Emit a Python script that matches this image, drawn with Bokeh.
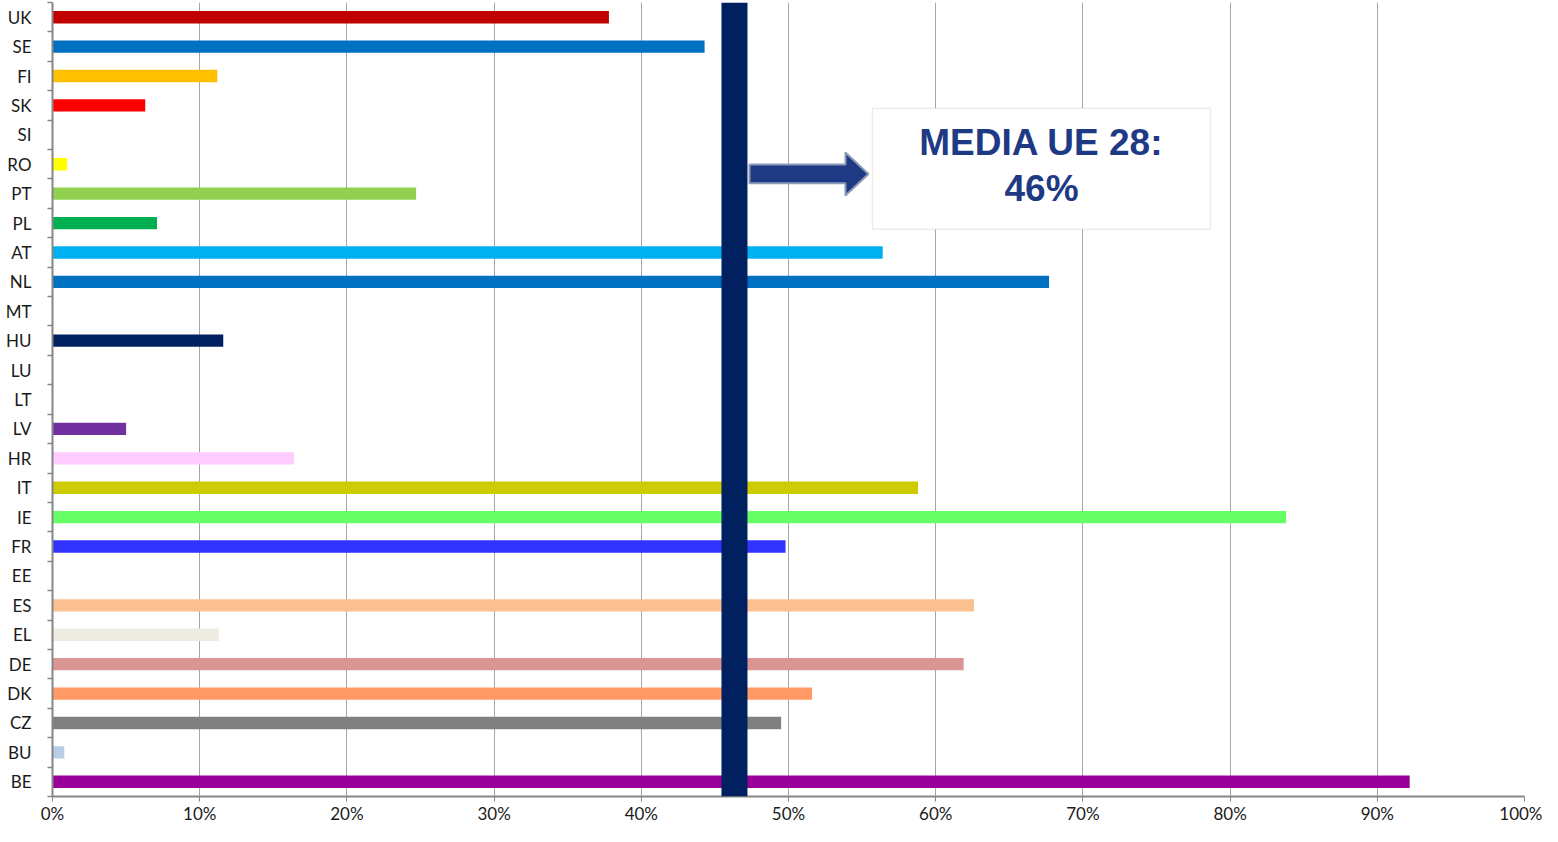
from bokeh.plotting import figure
from bokeh.models import (Range1d, FixedTicker, PrintfTickFormatter, Span,
                          BoxAnnotation, Label, ColumnDataSource)
from bokeh.embed import file_html
from bokeh.resources import INLINE

# ---- data (bottom to top) ----
countries = ["BE", "BU", "CZ", "DK", "DE", "EL", "ES", "EE", "FR", "IE", "IT",
             "HR", "LV", "LT", "LU", "HU", "MT", "NL", "AT", "PL", "PT", "RO",
             "SI", "SK", "FI", "SE", "UK"]
values = [92.2, 0.8, 49.5, 51.6, 61.9, 11.3, 62.6, 0.0, 49.8, 83.8, 58.8,
          16.4, 5.0, 0.0, 0.0, 11.6, 0.0, 67.7, 56.4, 7.1, 24.7, 1.0,
          0.0, 6.3, 11.2, 44.3, 37.8]
colors = ["#990099", "#B9CDE5", "#808080", "#FF9966", "#D99694", "#EEECE1",
          "#FAC090", "#FFFFFF", "#3333FF", "#66FF66", "#CCCC00", "#FFCCFF",
          "#7030A0", "#FFFFFF", "#FFFFFF", "#002060", "#FFFFFF", "#0070C0",
          "#00B0F0", "#00B050", "#92D050", "#FFFF00", "#FFFFFF", "#FF0000",
          "#FFC000", "#0070C0", "#C00000"]
x_ticks = [0, 10, 20, 30, 40, 50, 60, 70, 80, 90, 100]
eu_mean = 46
mean_label_lines = ["MEDIA UE 28:", f"{eu_mean}%"]

n = len(countries)
centers = [i + 0.5 for i in range(n)]
bounds = [float(i) for i in range(n + 1)]

src = ColumnDataSource(dict(y=centers, right=values, color=colors))

p = figure(width=1542, height=826, output_backend="svg", toolbar_location=None,
           x_range=Range1d(0, 100), y_range=Range1d(0, n),
           min_border_left=52, min_border_right=18, min_border_top=2,
           min_border_bottom=0)
p.outline_line_color = None
p.background_fill_color = "white"

p.hbar(y="y", right="right", left=0, height=0.42, color="color",
       line_color=None, source=src)

# mean band
p.add_layout(Span(location=eu_mean + 0.33, dimension="height",
                  line_color="#002060", line_width=26))

# arrow (data units relative to the mean band)
ax0 = eu_mean + 1.35
ax1 = eu_mean + 7.87
ax2 = eu_mean + 9.43
yc = 21.17
p.patch(x=[ax0, ax1, ax1, ax2, ax1, ax1, ax0],
        y=[yc + 0.32, yc + 0.32, yc + 0.73, yc, yc - 0.73, yc - 0.32, yc - 0.32],
        fill_color="#1F3A84", line_color="#8C9BB5", line_width=2)

# text box
p.add_layout(BoxAnnotation(left=55.71, right=78.67, top=23.40, bottom=19.29,
                           fill_color="white", fill_alpha=1.0,
                           line_color="#BFBFBF", line_width=1.5))
for txt, yy in zip(mean_label_lines, [22.25, 20.69]):
    p.add_layout(Label(x=67.19, y=yy, text=txt, text_align="center",
                       text_baseline="alphabetic", text_font="Liberation Sans",
                       text_font_style="bold", text_font_size="37px",
                       text_color="#1F3A84"))

# grid
p.ygrid.grid_line_color = None
p.xgrid.ticker = FixedTicker(ticks=x_ticks)
p.xgrid.grid_line_color = "#A6A6A6"
p.xgrid.grid_line_width = 1

# x axis
p.xaxis.ticker = FixedTicker(ticks=x_ticks)
p.xaxis.formatter = PrintfTickFormatter(format="%d%%")
p.xaxis.axis_line_color = "#868686"
p.xaxis.axis_line_width = 2
p.xaxis.major_tick_line_color = "#868686"
p.xaxis.major_tick_out = 5
p.xaxis.major_tick_in = 0
p.xaxis.minor_tick_line_color = None
p.xaxis.major_label_standoff = 1
p.xaxis.major_label_text_font = "Lato"
p.xaxis.major_label_text_font_size = "17px"
p.xaxis.major_label_text_color = "#1a1a1a"

# y axis
p.yaxis.ticker = FixedTicker(ticks=centers, minor_ticks=bounds)
p.yaxis.major_label_overrides = {c: name for c, name in zip(centers, countries)}
p.yaxis.axis_line_color = "#868686"
p.yaxis.axis_line_width = 2
p.yaxis.major_tick_line_color = None
p.yaxis.major_tick_out = 0
p.yaxis.major_tick_in = 0
p.yaxis.minor_tick_line_color = "#868686"
p.yaxis.minor_tick_line_width = 1.5
p.yaxis.minor_tick_out = 5
p.yaxis.minor_tick_in = 0
p.yaxis.major_label_standoff = 16
p.yaxis.major_label_text_font = "Lato"
p.yaxis.major_label_text_font_size = "17px"
p.yaxis.major_label_text_color = "#1a1a1a"

open("out.html", "w").write(file_html(p, INLINE))
